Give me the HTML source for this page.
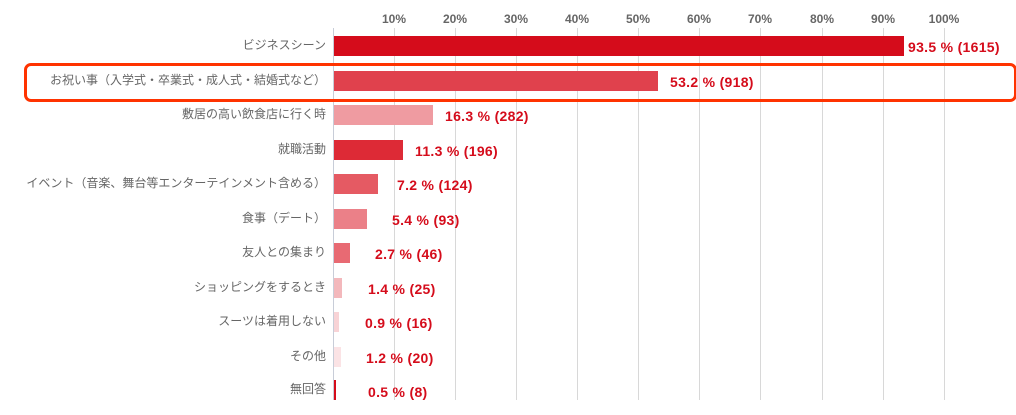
<!DOCTYPE html>
<html><head><meta charset="utf-8"><style>
body{margin:0;width:1016px;height:415px;background:#fff;position:relative;overflow:hidden;font-family:"Liberation Sans","Noto Sans CJK JP",sans-serif}
.g{position:absolute;top:28px;height:372px;width:1px;background:#d8d8d8}
.t{position:absolute;top:12px;font-size:12px;font-weight:bold;color:#666;width:50px;text-align:center}
.l{position:absolute;right:690px;font-size:12px;color:#666;white-space:nowrap;line-height:20px}
.b{position:absolute;left:334px;height:20px}
.v{position:absolute;font-size:14px;letter-spacing:0.3px;font-weight:bold;color:#d50c1b;line-height:20px;white-space:nowrap}
</style></head><body>
<div style="position:absolute;left:333px;top:28px;width:1px;height:372px;background:#c8cdd8"></div>
<div class="g" style="left:394px"></div><div class="g" style="left:455px"></div><div class="g" style="left:516px"></div><div class="g" style="left:577px"></div><div class="g" style="left:638px"></div><div class="g" style="left:699px"></div><div class="g" style="left:760px"></div><div class="g" style="left:822px"></div><div class="g" style="left:883px"></div><div class="g" style="left:944px"></div>
<div class="t" style="left:369px">10%</div><div class="t" style="left:430px">20%</div><div class="t" style="left:491px">30%</div><div class="t" style="left:552px">40%</div><div class="t" style="left:613px">50%</div><div class="t" style="left:674px">60%</div><div class="t" style="left:735px">70%</div><div class="t" style="left:797px">80%</div><div class="t" style="left:858px">90%</div><div class="t" style="left:919px">100%</div>

<div class="l" style="top:35px">ビジネスシーン</div><div class="b" style="top:36px;width:570px;background:#d50c1b"></div><div class="v" style="left:908px;top:37px">93.5 % (1615)</div>
<div class="l" style="top:70px">お祝い事（入学式・卒業式・成人式・結婚式など）</div><div class="b" style="top:71px;width:324px;background:#e0414d"></div><div class="v" style="left:670px;top:72px">53.2 % (918)</div>
<div class="l" style="top:104px">敷居の高い飲食店に行く時</div><div class="b" style="top:105px;width:99px;background:#ef9ba1"></div><div class="v" style="left:445px;top:106px">16.3 % (282)</div>
<div class="l" style="top:139px">就職活動</div><div class="b" style="top:140px;width:69px;background:#dd2a36"></div><div class="v" style="left:415px;top:141px">11.3 % (196)</div>
<div class="l" style="top:173px">イベント（音楽、舞台等エンターテインメント含める）</div><div class="b" style="top:174px;width:44px;background:#e55a63"></div><div class="v" style="left:397px;top:175px">7.2 % (124)</div>
<div class="l" style="top:208px">食事（デート）</div><div class="b" style="top:209px;width:33px;background:#eb8088"></div><div class="v" style="left:392px;top:210px">5.4 % (93)</div>
<div class="l" style="top:242px">友人との集まり</div><div class="b" style="top:243px;width:16px;background:#e86a73"></div><div class="v" style="left:375px;top:244px">2.7 % (46)</div>
<div class="l" style="top:277px">ショッピングをするとき</div><div class="b" style="top:278px;width:8px;background:#f3b8bc"></div><div class="v" style="left:368px;top:279px">1.4 % (25)</div>
<div class="l" style="top:311px">スーツは着用しない</div><div class="b" style="top:312px;width:5px;background:#f8d3d6"></div><div class="v" style="left:365px;top:313px">0.9 % (16)</div>
<div class="l" style="top:346px">その他</div><div class="b" style="top:347px;width:7px;background:#fbe3e5"></div><div class="v" style="left:366px;top:348px">1.2 % (20)</div>
<div class="l" style="top:379px">無回答</div><div class="b" style="top:380px;width:2px;background:#d50c1b"></div><div class="v" style="left:368px;top:382px">0.5 % (8)</div>

<div style="position:absolute;left:24px;top:63px;width:987px;height:33px;border:3px solid #ff3300;border-radius:7px"></div>
</body></html>
